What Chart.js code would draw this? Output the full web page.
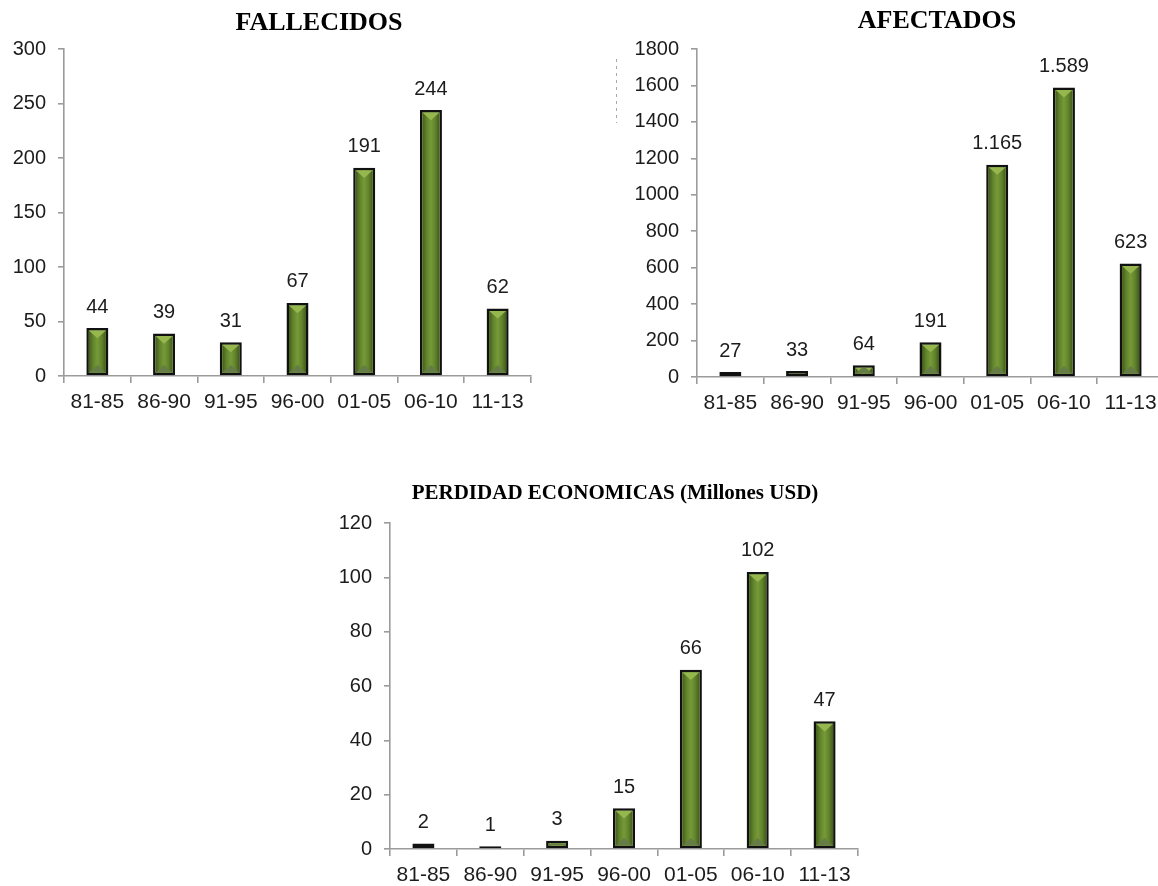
<!DOCTYPE html>
<html>
<head>
<meta charset="utf-8">
<script src="https://cdn.jsdelivr.net/npm/chart.js@4.4.0/dist/chart.umd.min.js"></script>
<style>
  html, body { margin: 0; padding: 0; background: #fff; overflow: hidden; width: 1158px; height: 886px; }
  canvas { position: absolute; }
</style>
</head>
<body>
<canvas id="cFallecidos"></canvas>
<canvas id="cAfectados"></canvas>
<canvas id="cPerdidas"></canvas>
<script>
// Periods (five-year groups, last one 2011-2013)
const categories = ['81-85', '86-90', '91-95', '96-00', '01-05', '06-10', '11-13'];

// Series values per period
const fallecidos = [44, 39, 31, 67, 191, 244, 62];
const afectados = [27, 33, 64, 191, 1165, 1589, 623];
const perdidas = [2, 1, 3, 15, 66, 102, 47];

// Value axis ranges [max, step]
const fallecidosAxis = [300, 50];
const afectadosAxis = [1800, 200];
const perdidasAxis = [120, 20];

const AXIS_GRAY = '#9b9b9b';
const TEXT = '#1c1c1c';
const SANS = "'Liberation Sans', Arial, sans-serif";
const SERIF = "'Liberation Serif', 'Times New Roman', serif";

// Spanish-style thousands separator for the value labels
function fmt(v) {
  return String(v).replace(/\B(?=(\d{3})+(?!\d))/g, '.');
}

// Beveled green bar face + value label above each bar
const bevelBars = {
  id: 'bevelBars',
  afterDatasetsDraw(chart) {
    const ctx = chart.ctx;
    const meta = chart.getDatasetMeta(0);
    const values = chart.data.datasets[0].data;
    meta.data.forEach((bar, i) => {
      const p = bar.getProps(['x', 'y', 'base', 'width'], true);
      const bw = 2.5;
      const left = p.x - p.width / 2 + bw;
      const right = p.x + p.width / 2 - bw;
      const top = Math.min(p.y, p.base) + bw;
      const bottom = Math.max(p.y, p.base) - bw;
      const w = right - left;
      if (bottom > top) {
        ctx.save();
        ctx.beginPath();
        ctx.rect(left, top, w, bottom - top);
        ctx.clip();
        const g = ctx.createLinearGradient(left, 0, right, 0);
        g.addColorStop(0, '#425c1b');
        g.addColorStop(0.25, '#62842c');
        g.addColorStop(0.5, '#769a38');
        g.addColorStop(0.75, '#62842c');
        g.addColorStop(1, '#425c1b');
        ctx.fillStyle = g;
        ctx.fillRect(left, top, w, bottom - top);
        const d = w * 0.45;
        // top facet
        ctx.fillStyle = '#95b74e';
        ctx.beginPath();
        ctx.moveTo(left, top);
        ctx.lineTo(right, top);
        ctx.lineTo(p.x, top + d);
        ctx.closePath();
        ctx.fill();
        // bottom facet
        ctx.fillStyle = '#657c46';
        ctx.beginPath();
        ctx.moveTo(left, bottom);
        ctx.lineTo(right, bottom);
        ctx.lineTo(p.x, bottom - d);
        ctx.closePath();
        ctx.fill();
        ctx.restore();
      }
      ctx.save();
      ctx.font = '20px ' + SANS;
      ctx.fillStyle = TEXT;
      ctx.textAlign = 'center';
      ctx.textBaseline = 'bottom';
      ctx.fillText(fmt(values[i]), p.x, Math.min(p.y, p.base) - 11);
      ctx.restore();
    });
  }
};

// Bold serif heading above each panel
const panelTitle = {
  id: 'panelTitle',
  afterDraw(chart, args, opts) {
    const ctx = chart.ctx;
    ctx.save();
    ctx.font = 'bold ' + opts.size + 'px ' + SERIF;
    ctx.fillStyle = '#000';
    ctx.textAlign = 'center';
    ctx.textBaseline = 'middle';
    ctx.fillText(opts.text, opts.x, opts.y);
    ctx.restore();
  }
};

// Faint dotted stroke left of the AFECTADOS value axis
const dottedMark = {
  id: 'dottedMark',
  afterDraw(chart, args, opts) {
    if (!opts || !opts.show) return;
    const ctx = chart.ctx;
    ctx.save();
    ctx.strokeStyle = '#a8a8a8';
    ctx.lineWidth = 1;
    ctx.setLineDash([3, 4]);
    ctx.beginPath();
    ctx.moveTo(opts.x, opts.y1);
    ctx.lineTo(opts.x, opts.y2);
    ctx.stroke();
    ctx.restore();
  }
};

function makeChart(id, cfg) {
  const canvas = document.getElementById(id);
  canvas.width = cfg.w;
  canvas.height = cfg.h;
  canvas.style.left = cfg.left + 'px';
  canvas.style.top = cfg.top + 'px';
  canvas.style.width = cfg.w + 'px';
  canvas.style.height = cfg.h + 'px';
  return new Chart(canvas, {
    type: 'bar',
    data: {
      labels: categories,
      datasets: [{
        data: cfg.values,
        backgroundColor: '#62842c',
        borderColor: '#111',
        borderWidth: 2.5,
        borderSkipped: false,
        categoryPercentage: 1,
        barPercentage: 0.33
      }]
    },
    options: {
      responsive: false,
      animation: false,
      devicePixelRatio: 1,
      layout: { padding: { top: cfg.padTop, left: 0, right: cfg.padRight, bottom: 0 } },
      plugins: {
        legend: { display: false },
        tooltip: { enabled: false },
        title: { display: false },
        panelTitle: cfg.title,
        dottedMark: cfg.dotted || { show: false }
      },
      scales: {
        x: {
          afterFit(s) { s.height = 44; },
          border: { display: true, color: AXIS_GRAY, width: 1.6 },
          grid: { display: true, drawOnChartArea: false, drawTicks: true, tickLength: 7, color: AXIS_GRAY, lineWidth: 1.6, offset: true },
          ticks: { color: TEXT, font: { family: SANS, size: 21 }, padding: 7, maxRotation: 0, autoSkip: false }
        },
        y: {
          min: 0,
          max: cfg.axis[0],
          afterFit(s) { s.width = cfg.yWidth; },
          border: { display: true, color: AXIS_GRAY, width: 1.6 },
          grid: { display: true, drawOnChartArea: false, drawTicks: true, tickLength: 6, color: AXIS_GRAY, lineWidth: 1.6 },
          ticks: {
            stepSize: cfg.axis[1], color: TEXT, font: { family: SANS, size: 20 }, padding: 12,
            callback: (v) => String(v)
          }
        }
      }
    },
    plugins: [bevelBars, panelTitle, dottedMark]
  });
}

makeChart('cFallecidos', {
  left: 0, top: 0, w: 560, h: 420, yWidth: 64, padRight: 29, padTop: 49,
  title: { text: 'FALLECIDOS', size: 26, x: 319, y: 23 },
  values: fallecidos, axis: fallecidosAxis
});

makeChart('cAfectados', {
  left: 600, top: 0, w: 580, h: 421, yWidth: 97, padRight: 16, padTop: 49,
  title: { text: 'AFECTADOS', size: 26, x: 337, y: 21 },
  values: afectados, axis: afectadosAxis,
  dotted: { show: true, x: 16.5, y1: 59, y2: 123 }
});

makeChart('cPerdidas', {
  left: 320, top: 470, w: 560, h: 423, yWidth: 70, padRight: 22, padTop: 53,
  title: { text: 'PERDIDAD ECONOMICAS (Millones USD)', size: 21, x: 295, y: 24 },
  values: perdidas, axis: perdidasAxis
});
</script>
</body>
</html>
